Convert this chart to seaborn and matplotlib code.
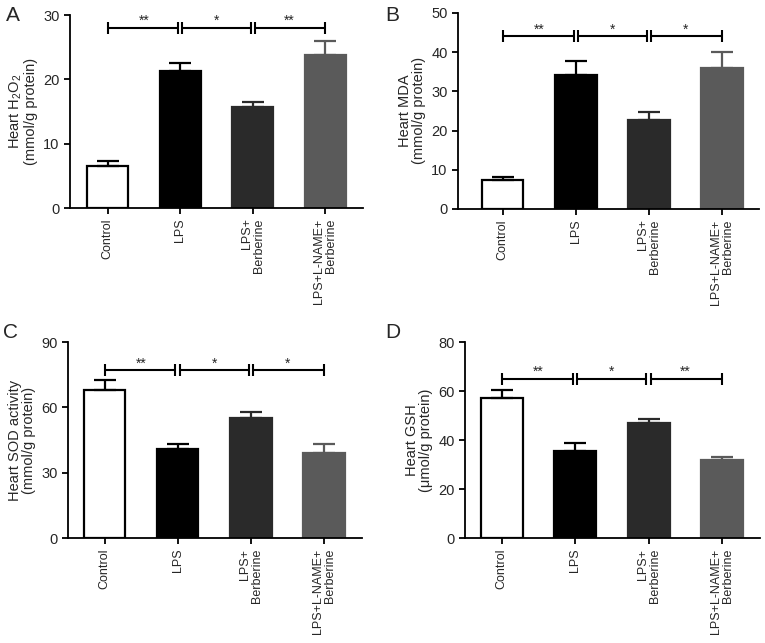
import numpy as np
import pandas as pd
import seaborn as sns
import matplotlib.pyplot as plt

sns.set_style("ticks")
plt.rcParams['font.family'] = ['Liberation Sans', 'DejaVu Sans']
plt.rcParams['mathtext.fontset'] = 'custom'
plt.rcParams['mathtext.rm'] = 'Liberation Sans'

# data
groups = ['Control', 'LPS', 'LPS+\nBerberine', 'LPS+L-NAME+\nBerberine']
bar_colors = ['white', '#000000', '#2a2a2a', '#5a5a5a']
edge_colors = ['#000000', '#000000', '#2a2a2a', '#5a5a5a']

h2o2 = [6.5, 21.3, 15.7, 23.8]
h2o2_err = [0.8, 1.2, 0.8, 2.2]
mda = [7.3, 34.2, 22.6, 36.0]
mda_err = [0.9, 3.4, 2.1, 3.9]
sod = [68.0, 41.0, 55.0, 39.3]
sod_err = [4.5, 2.2, 3.0, 3.9]
gsh = [57.0, 35.5, 47.0, 32.0]
gsh_err = [3.5, 3.5, 1.5, 1.3]

ylabels = ['Heart H$_2$O$_2$\n(mmol/g protein)',
           'Heart MDA\n(mmol/g protein)',
           'Heart SOD activity\n(mmol/g protein)',
           'Heart GSH\n(\u03bcmol/g protein)']
stars = [['**', '*', '**'], ['**', '*', '*'], ['**', '*', '*'], ['**', '*', '**']]
bracket_y = [28, 44, 77, 65]
yticks = [[0, 10, 20, 30], [0, 10, 20, 30, 40, 50], [0, 30, 60, 90], [0, 20, 40, 60, 80]]
letters = ['A', 'B', 'C', 'D']

fig = plt.figure(figsize=(7.65, 6.43), dpi=100)
# axes boxes in figure fraction
boxes = [[0.0915, 0.6765, 0.383, 0.300],
         [0.5987, 0.675, 0.393, 0.305],
         [0.0889, 0.163, 0.384, 0.305],
         [0.6078, 0.163, 0.386, 0.305]]
xlims = [(-0.52, 3.52), (-0.61, 3.5), (-0.5, 3.52), (-0.5, 3.52)]
letter_pos = [(0.008, 0.99), (0.503, 0.99), (0.004, 0.497), (0.503, 0.497)]

values = [h2o2, mda, sod, gsh]
errs = [h2o2_err, mda_err, sod_err, gsh_err]

for i in range(4):
    ax = fig.add_axes(boxes[i])
    df = pd.DataFrame({'group': groups, 'value': values[i]})
    sns.barplot(data=df, x='group', y='value', hue='group', palette=bar_colors,
                legend=False, width=0.57, ax=ax, errorbar=None, saturation=1)
    for p, ec in zip(ax.patches, edge_colors):
        p.set_edgecolor(ec)
        p.set_linewidth(1.6)
    # upper error bars only
    for j in range(4):
        ax.errorbar(j, values[i][j], yerr=[[0], [errs[i][j]]], fmt='none',
                    ecolor=edge_colors[j], elinewidth=1.6, capsize=8, capthick=1.6,
                    zorder=1)
    # significance brackets
    yb = bracket_y[i]
    for k in range(3):
        x0 = k + (0.03 if k > 0 else 0)
        x1 = k + 1 - (0.03 if k < 2 else 0)
        ax.plot([x0, x1], [yb, yb], color='black', lw=1.5,
                marker='|', markersize=8, markeredgewidth=1.5, clip_on=False)
        ax.text(k + 0.5, yb, stars[i][k], ha='center', va='bottom',
                fontsize=10)
    ax.set_xlim(xlims[i])
    ax.set_ylim(0, yticks[i][-1])
    ax.set_yticks(yticks[i])
    ax.set_xlabel('')
    ax.set_ylabel(ylabels[i], fontsize=10.5, linespacing=1.0)
    ax.set_xticks(range(4))
    ax.set_xticklabels(groups, rotation=90, fontsize=9, multialignment='right',
                       linespacing=1.0)
    ax.tick_params(axis='both', width=1.3, length=4, color='black')
    ax.tick_params(axis='y', labelsize=10.5)
    for s in ['left', 'bottom']:
        ax.spines[s].set_linewidth(1.3)
        ax.spines[s].set_color('black')
    sns.despine(ax=ax)
    fig.text(letter_pos[i][0], letter_pos[i][1], letters[i], fontsize=15,
             ha='left', va='top')

fig.savefig('out.png', dpi=100)
